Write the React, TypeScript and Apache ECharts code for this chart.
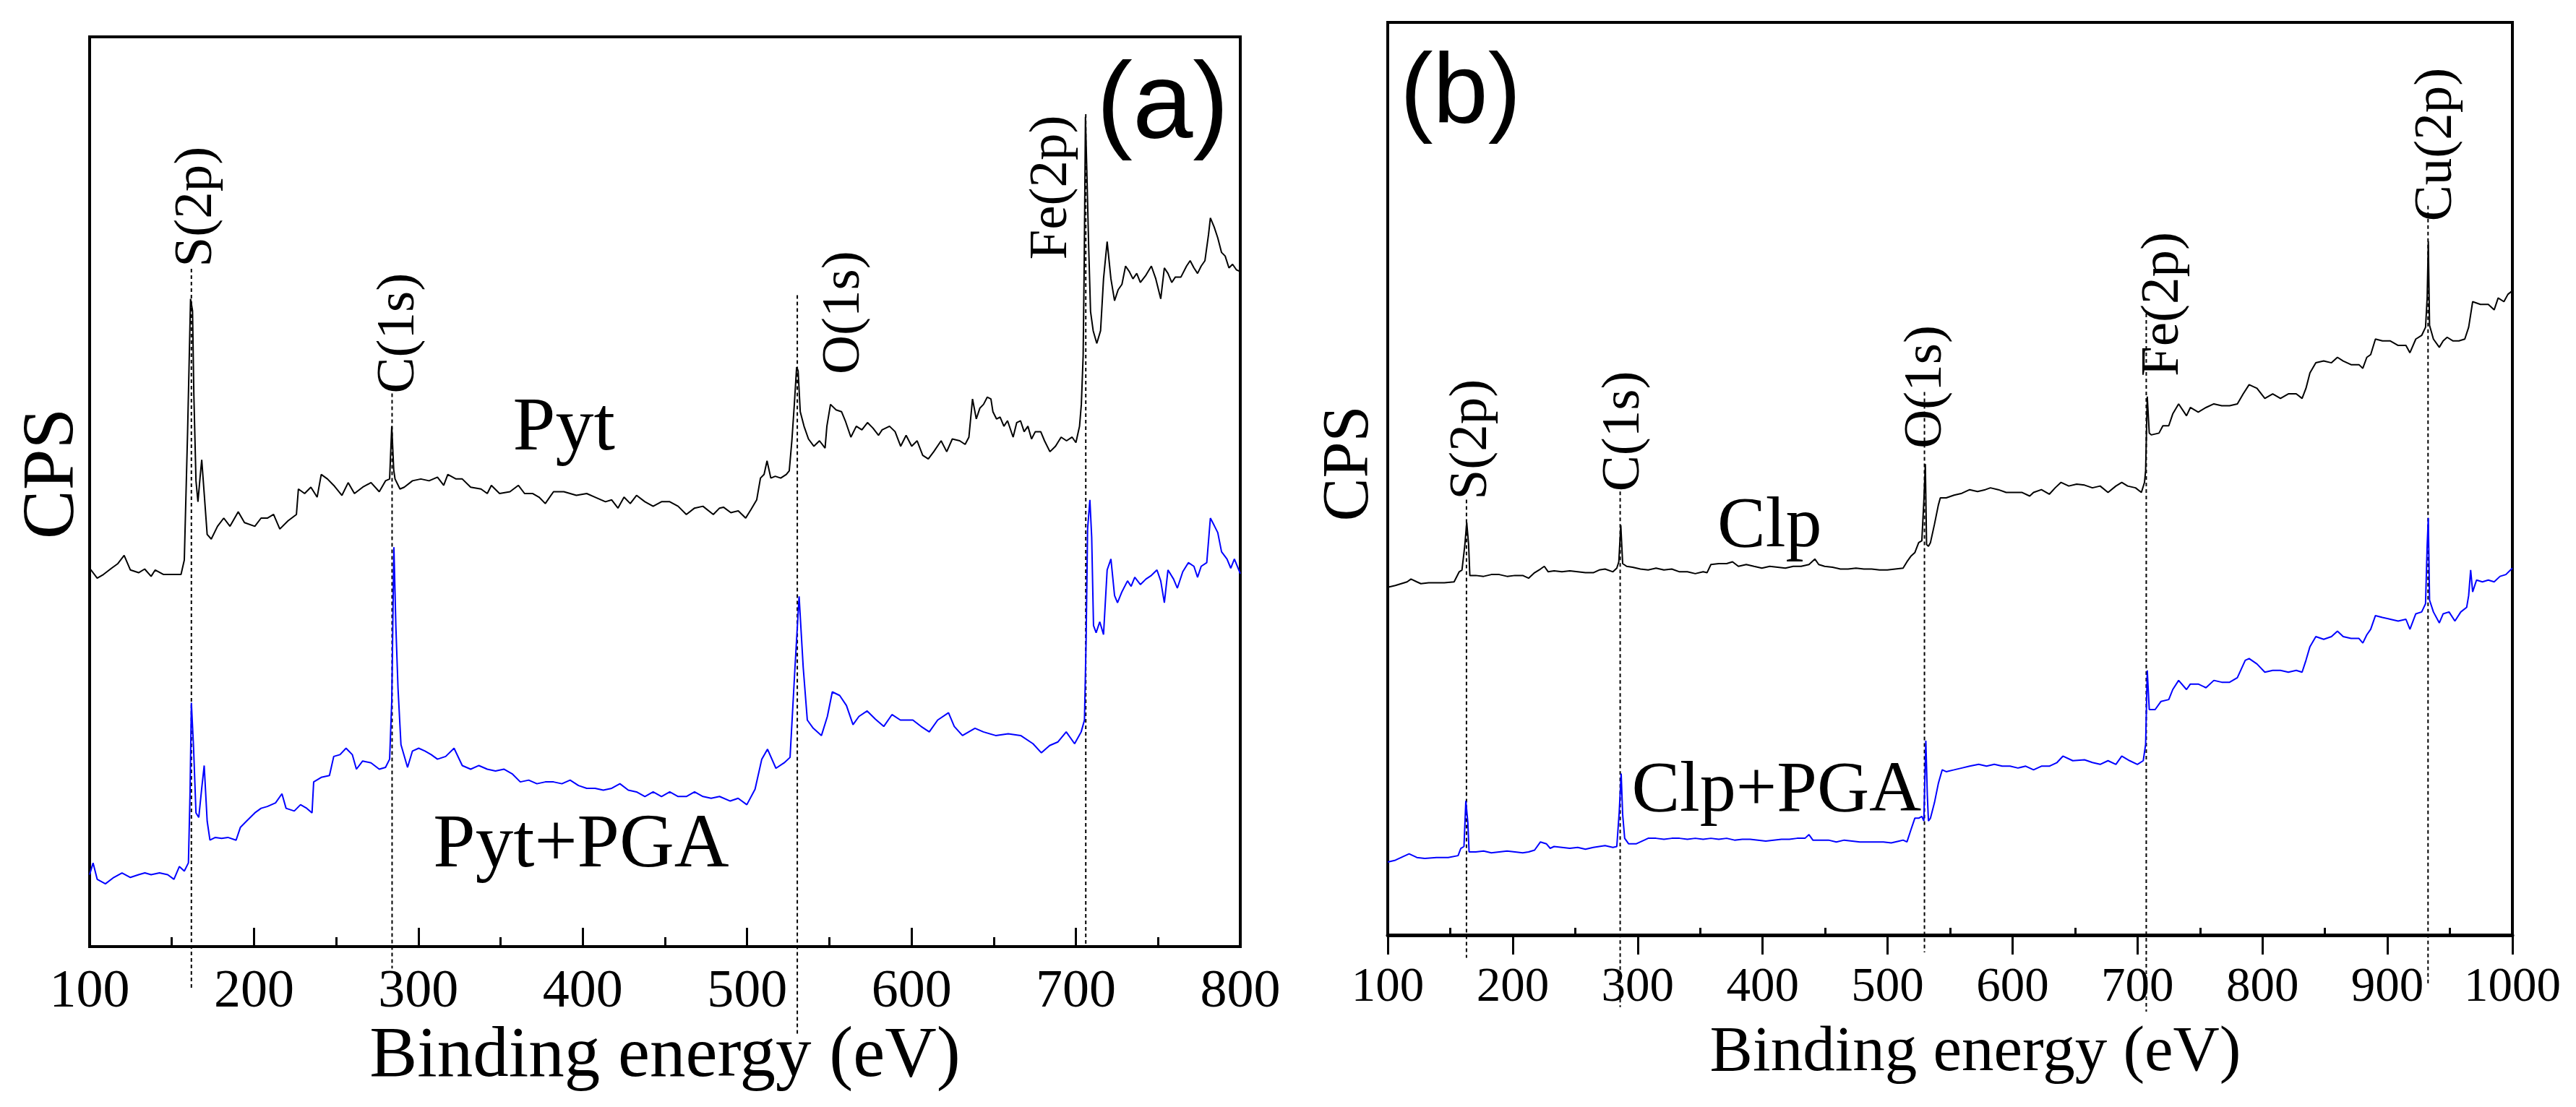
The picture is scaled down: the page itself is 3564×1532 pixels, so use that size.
import React, { useEffect, useRef } from "react";
import * as echarts from "echarts";

// ---------- data (binding energy eV, relative CPS) ----------
const pyt: [number, number][] = [
  [100,41.6],[104.6,40.5],[108.4,40.9],[113.4,41.6],[117.2,42.1],[121,43.0],[124.8,41.4],[129.8,41.1],[133.5,41.5],[137.4,40.7],[139.9,41.4],[145,40.9],[150,40.9],[155.6,40.9],[157.6,42.5],[159.6,56.6],[161.4,71.2],[162.6,69.9],[163.4,60.7],[164.7,51.2],[165.9,48.9],[167.2,51.6],[168.2,53.5],[169.7,49.8],[171.5,45.3],[174,44.8],[177.8,46.2],[181.6,47.1],[185.4,46.2],[190.4,47.8],[194.2,46.6],[200.5,46.2],[204.3,47.1],[208.1,47.1],[211.9,47.5],[215.7,45.9],[220.7,46.8],[225.8,47.5],[227,50.3],[230.8,49.8],[234.6,50.5],[238.4,49.4],[240.9,51.9],[244.7,51.4],[248.5,50.7],[253.5,49.6],[257.3,51.0],[261.1,49.8],[266.1,50.5],[271.2,51.0],[276.2,50.0],[280,51.2],[282.5,51.4],[283.8,57.2],[285,52.4],[285.8,51.4],[288.8,50.3],[291.4,50.5],[296.4,51.2],[301.5,51.4],[306.5,51.2],[311.6,51.6],[315.4,50.7],[317.9,51.9],[322.9,51.4],[326.7,51.4],[331.8,50.5],[338.1,50.3],[341.9,49.8],[344.4,50.7],[349.4,49.8],[355.7,50.0],[360.8,50.7],[364.6,49.8],[369.6,49.8],[373.4,49.4],[377.2,48.7],[382.2,50.0],[388.5,50.0],[392.3,49.8],[396.1,49.6],[402.4,49.8],[407.5,49.4],[413.8,48.9],[417.6,49.1],[421.4,48.2],[425.1,49.4],[428.9,48.7],[432.7,49.6],[437.8,48.9],[442.8,48.4],[447.9,48.9],[452.9,48.9],[458,48.4],[463,47.5],[468,48.2],[473.1,48.4],[479.4,47.5],[483.2,48.2],[485.6,48.3],[490.1,47.7],[494.6,47.9],[499.1,47.1],[502.5,48.1],[505.8,49.1],[508.1,51.5],[510.3,51.9],[512.1,53.4],[514.4,51.5],[517.1,51.7],[520.4,51.5],[523.8,51.9],[525.6,52.3],[527.2,55.6],[528.7,59.6],[530.1,63.7],[531,63.3],[532.3,58.8],[534.6,57.2],[537.3,55.8],[540.6,55.0],[544,55.6],[547.4,54.8],[548.5,57.2],[550.7,59.6],[554.1,59.0],[557.4,58.8],[559.7,57.8],[563.1,56.0],[566.4,57.2],[569.8,56.8],[573.2,57.6],[576.5,57.0],[579.9,56.2],[582.1,56.8],[586.6,57.2],[590,56.6],[593.4,55.0],[596.7,56.2],[600.1,55.0],[603.4,55.6],[606.8,54.0],[610.2,53.6],[613.5,54.4],[618,55.6],[621.4,54.4],[624.8,55.8],[629.3,55.6],[632.6,55.2],[634.9,56.0],[637.1,60.2],[639.4,58.0],[641.6,59.2],[643.8,59.6],[646.1,60.4],[648.3,60.2],[649.5,58.8],[651.7,58.0],[653.9,58.2],[656.2,57.2],[658.4,57.8],[661.8,56.0],[664,57.6],[666.3,57.8],[668.5,56.6],[670.8,57.2],[673,55.8],[675.3,56.6],[678.6,56.6],[680.9,55.6],[684.2,54.4],[687.6,55.0],[691,56.0],[694.3,55.6],[697.7,56.0],[700,55.4],[702.2,57.2],[703.3,59.6],[704.4,64.9],[705.1,75.9],[705.8,91.2],[706.7,84.8],[707.8,76.7],[708.9,69.8],[710.5,67.7],[712.7,66.3],[715,67.7],[716.8,73.4],[719,77.5],[721.3,73.4],[723.5,71.0],[725.7,72.2],[728,72.8],[730.2,74.8],[732.5,74.2],[734.7,73.4],[737,74.0],[739.2,73.0],[742.6,73.8],[745.9,74.8],[748.6,73.4],[751.6,71.2],[753.8,74.6],[756,74.0],[758.3,73.0],[760.5,73.6],[763.9,73.6],[767.3,74.8],[769.5,75.4],[771.8,74.6],[774,74.0],[776.2,74.8],[778.5,75.4],[780.7,78.3],[781.8,80.1],[784.1,79.1],[786.3,77.9],[788.6,76.3],[790.8,75.9],[793.1,74.6],[795.3,75.0],[797.6,74.4],[800,74.2]
];

const pytPga: [number, number][] = [
  [100,7.9],[102.1,9.2],[104.6,7.4],[109.6,6.9],[114.7,7.6],[119.7,8.1],[124.8,7.6],[129.8,7.9],[133.6,8.1],[137.4,7.9],[142.5,8.1],[147.5,7.9],[151.3,7.4],[154.6,8.8],[157.6,8.3],[160.1,9.2],[161.1,17.0],[161.9,26.8],[163.2,22.0],[164.7,14.7],[166.4,14.2],[168.2,17.4],[169.7,19.9],[171.5,13.8],[173.2,11.7],[176.5,12.0],[180.3,11.9],[184.1,12.0],[189.1,11.7],[191.7,13.1],[195.5,13.8],[200.5,14.7],[204.3,15.2],[208.1,15.4],[213.1,15.8],[217,16.8],[219.5,15.2],[224.5,14.9],[228.3,15.6],[232.1,15.2],[235.3,14.7],[236.3,18.1],[240.9,18.6],[245.9,18.8],[248.5,20.9],[252.3,21.1],[256,21.8],[259.8,21.1],[262.3,19.5],[266.1,20.4],[271.2,20.2],[276.2,19.5],[280,19.7],[282.5,20.6],[283.8,27.0],[285.1,43.9],[286.3,35.2],[287.6,28.4],[289.4,22.2],[293.4,19.7],[296.4,21.5],[300.2,21.8],[304,21.5],[307.8,21.1],[311.6,20.6],[316.6,20.9],[321.7,21.8],[326.7,19.9],[331.8,19.5],[336.8,19.9],[341.9,19.5],[346.9,19.3],[352,19.5],[357,19.0],[362,18.1],[367.1,18.3],[372.1,17.9],[377.2,18.1],[382.2,18.1],[387.3,17.9],[392.3,18.3],[397.4,17.7],[402.4,17.4],[407.5,17.4],[412.5,17.2],[417.6,17.4],[422.6,17.9],[427.7,17.2],[432.7,17.0],[437.8,16.5],[442.8,17.0],[447.9,16.5],[452.9,17.0],[458,16.5],[463,16.5],[468,17.0],[473.1,16.5],[478.1,16.3],[483.2,16.5],[489.7,16.0],[494.5,16.3],[499.8,15.6],[504.8,17.3],[508.9,20.6],[512.4,21.7],[517.5,19.6],[522.5,20.2],[526.1,20.8],[529.1,30.7],[531.6,38.5],[534.1,30.7],[536.6,24.9],[540.2,24.0],[545.2,23.2],[548.8,25.3],[551.8,28.0],[556.3,27.6],[560.4,26.5],[564.4,24.4],[568,25.3],[573,25.9],[578,25.0],[583.1,24.2],[588.1,25.5],[593.2,24.9],[600.8,24.9],[605.8,24.2],[610.8,23.6],[615.9,24.9],[622.5,25.7],[626,24.2],[631,23.2],[638.6,24.0],[643.7,23.6],[651.2,23.2],[658.8,23.4],[666.4,23.2],[673.9,22.3],[679,21.3],[684,22.1],[689.1,22.5],[694.1,23.6],[699.2,22.3],[703.2,23.6],[705.2,24.9],[706.2,33.7],[707.1,45.9],[708.5,49.1],[709.6,45.0],[710.7,35.3],[712.3,34.5],[714.5,35.7],[716.8,34.3],[719,41.4],[721.3,42.6],[723.5,38.6],[725.3,37.8],[728,39.0],[731.4,40.2],[733.6,39.6],[735.8,40.6],[739.2,39.8],[742.6,40.4],[745.9,40.8],[749.3,41.4],[751.6,40.2],[753.8,37.8],[756,41.4],[759.4,40.4],[761.7,39.4],[765,41.2],[768.4,42.2],[771.8,41.8],[774,40.6],[776.2,41.8],[779.6,42.2],[781.8,47.1],[784.1,46.3],[786.3,45.5],[788.6,43.4],[791.9,42.6],[794.2,41.6],[796.4,42.6],[800,41.0]
];

const clp: [number, number][] = [
  [100,38.1],[106.1,38.3],[110.8,38.5],[115.5,38.7],[118.6,39.0],[123.3,38.7],[126.5,38.5],[132.7,38.6],[139,38.6],[145.3,38.6],[153.1,38.7],[157.2,39.8],[159.4,40.0],[161.6,42.6],[163.2,45.2],[164.7,42.8],[165.7,39.4],[170.4,39.4],[176.7,39.3],[182.9,39.5],[189.2,39.5],[195.5,39.3],[201.8,39.4],[208,39.4],[212.7,39.1],[217.5,39.7],[222.2,40.1],[225.3,40.4],[228.4,39.8],[233.1,39.9],[239.4,39.8],[245.7,39.9],[252,39.8],[258.2,39.7],[264.5,39.7],[269.2,40.0],[273.9,40.1],[280.2,39.8],[283.3,40.2],[284.9,40.9],[286.5,44.9],[288,40.7],[291.2,40.4],[295.9,40.3],[302.2,40.1],[308.4,40.0],[314.7,40.2],[321,40.0],[327.3,40.1],[333.5,39.8],[339.8,39.8],[346.1,39.6],[352.4,39.8],[355.5,39.7],[358.6,40.6],[364.9,40.7],[371.2,40.7],[375.9,40.9],[380.6,40.4],[386.9,40.6],[393.1,40.4],[399.4,40.2],[405.7,40.4],[412,40.3],[418.2,40.2],[424.5,40.4],[430.8,40.4],[437.1,40.6],[441.8,41.2],[444.9,40.6],[449.6,40.4],[455.9,40.3],[462.2,40.1],[468.4,40.1],[474.7,40.2],[481,40.1],[487.3,40.1],[493.5,40.0],[499.8,40.0],[506.1,40.1],[512.4,40.2],[515.5,40.9],[518.6,41.5],[521.8,41.9],[524.9,43.0],[527.4,43.2],[529,47.5],[530.2,51.6],[531.2,42.8],[532.7,42.6],[534.3,43.0],[537.5,45.0],[540.6,47.1],[542.2,47.9],[546.9,47.9],[553.2,48.2],[559.4,48.4],[565.7,48.8],[572,48.6],[578.2,48.8],[582.3,49.0],[588.6,48.8],[594.9,48.5],[601.1,48.5],[607.4,48.5],[613.7,48.1],[616.8,48.5],[623.1,48.8],[629.4,48.3],[634.1,49.0],[638.8,49.6],[645,49.2],[651.3,49.4],[657.6,49.3],[663.9,49.0],[670.1,49.2],[676.4,48.5],[682.7,49.2],[687.4,49.6],[692.1,49.2],[698.4,49.0],[703.1,48.5],[705.6,49.6],[706.5,50.9],[707.8,59.0],[709.4,55.0],[711,54.8],[717.2,55.0],[720.3,55.8],[725,55.8],[728.2,57.1],[732.9,58.2],[739.2,56.9],[742.3,57.8],[748.6,57.3],[754.8,57.8],[761.1,58.2],[767.4,58.0],[773.7,58.0],[779.9,58.2],[784.6,59.3],[789.3,60.3],[795.6,59.9],[801.9,58.8],[808.2,59.3],[814.4,58.8],[820.7,59.3],[827,59.3],[831.7,58.8],[834.8,59.9],[838,61.6],[842.7,62.7],[849,62.9],[855.2,62.7],[860,63.3],[864.6,62.9],[870.9,62.5],[877.2,62.5],[880.3,62.1],[883.5,63.3],[886.6,63.6],[890.4,65.3],[896,65.1],[902.3,65.1],[908.6,64.6],[914.8,64.6],[918,63.8],[922.7,65.3],[927.4,65.7],[930.5,66.6],[931.8,69.8],[932.7,76.0],[933.7,66.8],[936.8,65.3],[941.5,64.4],[944.6,65.1],[947.8,65.5],[952.5,65.1],[957.2,65.1],[961.9,65.3],[965,66.6],[968.2,69.4],[974.4,69.1],[980.7,69.1],[985.4,68.5],[988.6,69.8],[993.2,69.4],[996.4,70.2],[1000,70.6]
];

const clpPga: [number, number][] = [
  [100,8.0],[106.1,8.2],[110.8,8.5],[117.1,8.9],[123.3,8.5],[129.6,8.4],[139,8.5],[148.4,8.5],[156.3,8.7],[158.5,9.5],[161,9.7],[162.5,14.7],[164.1,12.3],[165.1,9.1],[170.4,9.1],[176.7,9.2],[182.9,9.0],[189.2,9.1],[195.5,9.2],[201.8,9.1],[208,9.0],[212.7,9.1],[217.5,9.3],[222.2,10.2],[226.9,10.0],[230,9.5],[233.1,9.7],[239.4,9.6],[245.7,9.5],[252,9.6],[258.2,9.4],[264.5,9.6],[269.2,9.7],[273.9,9.8],[280.2,9.6],[283.3,9.7],[285.2,13.4],[286.8,17.7],[288,13.2],[289.6,10.6],[292.7,10.0],[299,10.0],[305.3,10.4],[308.4,10.6],[314.7,10.6],[321,10.5],[327.3,10.6],[333.5,10.6],[339.8,10.5],[346.1,10.6],[352.4,10.5],[358.6,10.6],[364.9,10.5],[371.2,10.6],[377.5,10.4],[383.7,10.5],[390,10.5],[396.3,10.4],[402.5,10.3],[408.8,10.4],[415.1,10.5],[421.4,10.5],[427.6,10.6],[433.9,10.6],[437.1,11.0],[440.2,10.4],[446.5,10.4],[452.7,10.4],[459,10.2],[465.3,10.4],[471.6,10.3],[477.8,10.2],[484.1,10.2],[490.4,10.2],[496.7,10.2],[502.9,10.1],[509.2,10.3],[512.4,10.4],[515.5,10.2],[518.6,11.5],[521.8,12.8],[524.9,12.8],[527.4,13.0],[529,12.5],[530.6,21.3],[531.8,15.3],[532.7,12.5],[534.3,12.8],[537.5,14.5],[540.6,16.6],[543.7,18.1],[546.9,17.9],[553.2,18.1],[559.4,18.3],[565.7,18.5],[572.9,18.7],[579.2,18.5],[585.4,18.7],[591.7,18.5],[598,18.5],[604.3,18.3],[610.5,18.5],[616.8,18.1],[623.1,18.5],[629.4,18.5],[635.6,18.9],[640.3,19.6],[648.2,19.1],[657.6,19.2],[663.9,18.9],[670.1,18.7],[676.4,19.1],[682.7,18.7],[687.4,19.6],[693.7,19.1],[699.9,18.7],[704.6,19.1],[706.5,20.9],[707.8,29.0],[709.4,24.7],[714.1,24.7],[718.8,25.6],[725,25.8],[728.2,26.9],[732.9,27.9],[739.2,26.9],[742.3,27.5],[748.6,27.5],[754.8,27.1],[761.1,27.9],[767.4,27.7],[773.7,27.7],[779.9,28.2],[786.2,30.1],[789.3,30.3],[795.6,29.7],[801.9,28.8],[808.2,29.0],[814.4,29.0],[820.7,28.8],[827,29.0],[831.7,28.8],[834.8,30.1],[838,31.6],[842.7,32.7],[849,32.4],[855.2,32.7],[860,33.3],[864.6,32.7],[870.9,32.5],[877.2,32.5],[880.3,32.0],[883.5,32.9],[886.6,33.5],[890.4,35.0],[896,34.8],[902.3,34.6],[908.6,34.4],[914.8,34.6],[918,33.5],[922.7,35.2],[927.4,35.4],[930.5,36.3],[931.8,42.7],[932.7,45.7],[933.7,36.7],[936.8,35.4],[941.5,34.2],[944.6,35.2],[949.3,35.4],[954,34.4],[958.7,35.4],[963.4,35.9],[965,37.2],[966.6,40.0],[968.2,37.6],[971.3,38.9],[976,38.7],[980.7,38.9],[985.4,38.7],[990.1,39.3],[994.8,39.5],[1000,40.2]
];

// peak markers: name, energy, top and bottom of the dotted guide line
const peakNamesA = ["S(2p)", "C(1s)", "O(1s)", "Fe(2p)"];
const peakEnergyA = [161.9, 284, 530.5, 706];
const peakTopA = [74.5, 60.8, 71.6, 91.5];
const peakBottomA = [-4.6, -2.4, -9.6, 0];

const peakNamesB = ["S(2p)", "C(1s)", "O(1s)", "Fe(2p)", "Cu(2p)"];
const peakEnergyB = [163, 286, 529.5, 707, 932.5];
const peakTopB = [47.7, 48.6, 59.5, 68.1, 79.9];
const peakBottomB = [-2.5, -7.9, -1.9, -8.4, -5.5];

const xTicksA = { min: 100, max: 800, step: 100 };
const xTicksB = { min: 100, max: 1000, step: 100 };

// ---------- layout (label anchors in data coordinates) ----------
const peakLabelAnchorA: [number, number][] = [[162.8, 74.7], [285.6, 60.8], [556.5, 62.9], [682.7, 75.5]];
const peakLabelAnchorB: [number, number][] = [[163.9, 47.7], [286, 48.6], [527.9, 53.3], [717.7, 61.2], [936, 78.2]];
const seriesLabels = [
  { text: "Pyt", grid: 0, at: [388.5, 54.6], size: 106 },
  { text: "Pyt+PGA", grid: 0, at: [399, 8.8], size: 105 },
  { text: "Clp", grid: 1, at: [405.6, 42.6], size: 100 },
  { text: "Clp+PGA", grid: 1, at: [411.1, 13.6], size: 100 },
];

const W = 3564;
const H = 1532;
const SERIF = "Liberation Serif";
const SANS = "Liberation Sans";

export default function App() {
  const ref = useRef<HTMLDivElement>(null);

  useEffect(() => {
    document.body.style.margin = "0";
    const chart = echarts.init(ref.current!, null, { renderer: "svg" });

    const curve = (data: [number, number][], color: string, xi: number, yi: number) => ({
      type: "line",
      xAxisIndex: xi,
      yAxisIndex: yi,
      data,
      symbol: "none",
      showSymbol: false,
      silent: true,
      lineStyle: { color, width: 2 },
      itemStyle: { color },
      z: 3,
    });

    const guide = (e: number, top: number, bottom: number, xi: number, yi: number) => ({
      type: "line",
      xAxisIndex: xi,
      yAxisIndex: yi,
      data: [[e, top], [e, bottom]],
      symbol: "none",
      showSymbol: false,
      silent: true,
      clip: false,
      lineStyle: { color: "#000", width: 2, type: [5, 4] },
      z: 2,
    });

    const hiddenY = (gridIndex: number, gap: number, size: number, shift: number) => ({
      type: "value",
      gridIndex,
      min: 0,
      max: 100,
      name: "CPS",
      nameLocation: "middle",
      nameGap: gap,
      nameMoveOverlap: false,
      nameTextStyle: { fontSize: size, fontFamily: SERIF, color: "#000", padding: [0, 0, 0, shift] },
      axisLine: { show: false },
      axisTick: { show: false },
      axisLabel: { show: false },
      splitLine: { show: false },
    });

    const plain = (v: number) => String(Math.round(v));

    const option: any = {
      animation: false,
      backgroundColor: "#fff",
      textStyle: { fontFamily: SERIF, color: "#000" },
      grid: [
        { left: 124, top: 51, width: 1592, height: 1259, show: true, borderColor: "#000", borderWidth: 4, backgroundColor: "transparent", containLabel: false, outerBoundsMode: "none" },
        { left: 1920, top: 31, width: 1556, height: 1263, show: true, borderColor: "#000", borderWidth: 4, backgroundColor: "transparent", containLabel: false, outerBoundsMode: "none" },
      ],
      xAxis: [
        {
          type: "value", gridIndex: 0, position: "bottom",
          min: xTicksA.min, max: xTicksA.max, interval: xTicksA.step,
          name: "Binding energy (eV)", nameLocation: "middle", nameGap: 96, nameMoveOverlap: false,
          nameTextStyle: { fontSize: 99, fontFamily: SERIF, color: "#000" },
          axisLine: { show: true, onZero: false, lineStyle: { color: "#000", width: 4 } },
          axisTick: { show: true, inside: true, length: 26, lineStyle: { color: "#000", width: 3 } },
          minorTick: { show: true, splitNumber: 2, length: 13, lineStyle: { color: "#000", width: 3 } },
          axisLabel: { show: true, margin: 21, fontSize: 74, fontFamily: SERIF, color: "#000", hideOverlap: false, showMinLabel: true, showMaxLabel: true, formatter: plain },
          splitLine: { show: false }, minorSplitLine: { show: false },
        },
        {
          type: "value", gridIndex: 1, position: "bottom",
          min: xTicksB.min, max: xTicksB.max, interval: xTicksB.step,
          name: "Binding energy (eV)", nameLocation: "middle", nameGap: 112, nameMoveOverlap: false,
          nameTextStyle: { fontSize: 89, fontFamily: SERIF, color: "#000", padding: [0, 0, 0, 70] },
          axisLine: { show: true, onZero: false, lineStyle: { color: "#000", width: 5 } },
          axisTick: { show: true, inside: false, length: 27, lineStyle: { color: "#000", width: 3 } },
          minorTick: { show: false },
          axisLabel: { show: true, margin: 34, fontSize: 67, fontFamily: SERIF, color: "#000", hideOverlap: false, showMinLabel: true, showMaxLabel: true, formatter: plain },
          splitLine: { show: false }, minorSplitLine: { show: false },
        },
        {
          type: "value", gridIndex: 1, position: "bottom",
          min: xTicksB.min, max: xTicksB.max, interval: xTicksB.step,
          axisLine: { show: false, onZero: false },
          axisTick: { show: false, inside: true },
          minorTick: { show: true, splitNumber: 2, length: 10, lineStyle: { color: "#000", width: 3 } },
          axisLabel: { show: false },
          splitLine: { show: false }, minorSplitLine: { show: false },
        },
      ],
      yAxis: [hiddenY(0, 7, 102, 50), hiddenY(1, 14, 90, 42)],
      series: [
        curve(pyt, "#000000", 0, 0),
        curve(pytPga, "#0000ff", 0, 0),
        curve(clp, "#000000", 1, 1),
        curve(clpPga, "#0000ff", 1, 1),
        ...peakEnergyA.map((e, i) => guide(e, peakTopA[i], peakBottomA[i], 0, 0)),
        ...peakEnergyB.map((e, i) => guide(e, peakTopB[i], peakBottomB[i], 2, 1)),
      ],
    };

    chart.setOption(option);

    const toPx = (grid: number, p: [number, number] | number[]) =>
      chart.convertToPixel({ xAxisIndex: grid === 0 ? 0 : 1, yAxisIndex: grid }, p as any) as number[];

    const rotLabel = (grid: number, name: string, at: [number, number]) => {
      const p = toPx(grid, at);
      return {
        type: "text",
        x: p[0],
        y: p[1],
        rotation: Math.PI / 2,
        silent: true,
        z: 10,
        style: {
          text: name,
          fontSize: 75,
          fontFamily: SERIF,
          fill: "#000",
          align: "left",
          textAlign: "left",
          verticalAlign: "middle",
          textVerticalAlign: "middle",
        },
      };
    };

    const graphic: any[] = [
      ...peakNamesA.map((n, i) => rotLabel(0, n, peakLabelAnchorA[i])),
      ...peakNamesB.map((n, i) => rotLabel(1, n, peakLabelAnchorB[i])),
      ...seriesLabels.map((s) => {
        const p = toPx(s.grid, s.at);
        return {
          type: "text",
          x: p[0],
          y: p[1] - 0.3375 * s.size,
          silent: true,
          z: 10,
          style: {
            text: s.text, fontSize: s.size, fontFamily: SERIF, fill: "#000",
            align: "center", textAlign: "center", verticalAlign: "middle", textVerticalAlign: "middle",
          },
        };
      }),
      {
        type: "text", x: 1517, y: 191 - 0.3465 * 150, silent: true, z: 10,
        style: { text: "(a)", fontSize: 150, fontFamily: SANS, fill: "#000", align: "left", textAlign: "left", verticalAlign: "middle", textVerticalAlign: "middle" },
      },
      {
        type: "text", x: 1937, y: 170 - 0.3465 * 137, silent: true, z: 10,
        style: { text: "(b)", fontSize: 137, fontFamily: SANS, fill: "#000", align: "left", textAlign: "left", verticalAlign: "middle", textVerticalAlign: "middle" },
      },
    ];

    chart.setOption({ graphic });

    return () => chart.dispose();
  }, []);

  return <div ref={ref} style={{ width: W, height: H }} />;
}
